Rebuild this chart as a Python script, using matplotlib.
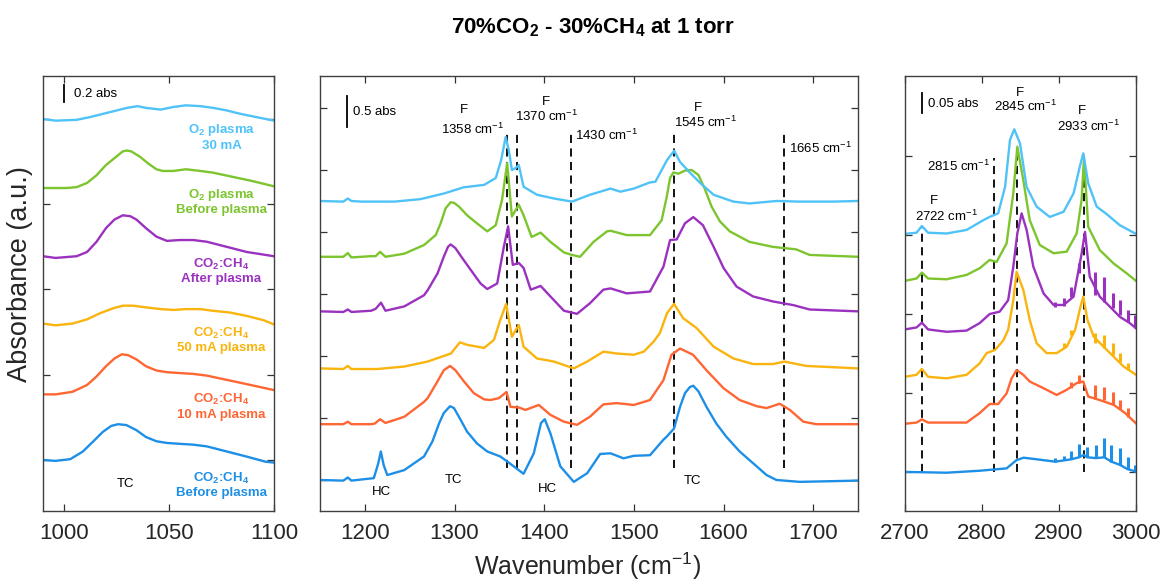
import matplotlib
matplotlib.use("Agg")
import matplotlib.pyplot as plt

plt.rcParams["font.family"] = ["Liberation Sans", "DejaVu Sans"]
plt.rcParams["mathtext.fontset"] = "custom"
plt.rcParams["mathtext.rm"] = "Liberation Sans"
plt.rcParams["mathtext.it"] = "Liberation Sans:italic"
plt.rcParams["mathtext.bf"] = "Liberation Sans:bold"

# ---------------------------------------------------------------------
# series (top to bottom) and colours
# ---------------------------------------------------------------------
labels = [
    "O$_\\mathbf{2}$ plasma\n30 mA",
    "O$_\\mathbf{2}$ plasma\nBefore plasma",
    "CO$_\\mathbf{2}$:CH$_\\mathbf{4}$\nAfter plasma",
    "CO$_\\mathbf{2}$:CH$_\\mathbf{4}$\n50 mA plasma",
    "CO$_\\mathbf{2}$:CH$_\\mathbf{4}$\n10 mA plasma",
    "CO$_\\mathbf{2}$:CH$_\\mathbf{4}$\nBefore plasma",
]
colors = ["#4FC3F7", "#7DC52E", "#9A32BF", "#F9B40E", "#FF6633", "#1E8FE6"]
label_y = [3.79, 3.03, 2.22, 1.41, 0.63, -0.29]

# ---------------------------------------------------------------------
# left panel, 990-1100 cm-1 (stacked absorbance, offsets included)
# ---------------------------------------------------------------------
left_o2_30_x = [990, 996, 1006, 1012, 1017, 1023.5, 1030, 1035, 1039, 1046, 1052, 1058,
                1065, 1071, 1077.5, 1084, 1092, 1100]
left_o2_30_y = [4.00, 3.98, 3.99, 4.02, 4.05, 4.09, 4.13, 4.15, 4.13, 4.11, 4.14, 4.16,
                4.15, 4.13, 4.10, 4.06, 4.02, 3.98]
left_o2_bef_x = [990, 1001, 1006, 1011, 1015.5, 1020, 1025, 1028, 1030, 1032, 1036, 1040,
                 1044, 1047, 1052, 1058, 1065, 1071, 1080.5, 1090, 1100]
left_o2_bef_y = [3.19, 3.19, 3.20, 3.25, 3.34, 3.46, 3.56, 3.62, 3.63, 3.62, 3.56, 3.48,
                 3.41, 3.39, 3.39, 3.41, 3.39, 3.37, 3.32, 3.27, 3.21]
left_aft_x = [990, 996, 1006, 1011, 1015.5, 1020, 1024, 1028, 1031.5, 1034.5, 1039, 1044,
              1049, 1055, 1061.5, 1068, 1077.5, 1087, 1100]
left_aft_y = [2.39, 2.37, 2.39, 2.44, 2.56, 2.72, 2.82, 2.87, 2.86, 2.82, 2.72, 2.62,
              2.57, 2.58, 2.58, 2.56, 2.50, 2.44, 2.39]
left_50_x = [990, 996, 1004, 1011, 1017, 1023.5, 1028, 1033, 1039, 1046, 1052, 1058,
             1065, 1071, 1079, 1087, 1095, 1100]
left_50_y = [1.60, 1.58, 1.60, 1.65, 1.72, 1.78, 1.81, 1.81, 1.79, 1.77, 1.76, 1.77,
             1.77, 1.75, 1.73, 1.69, 1.64, 1.59]
left_10_x = [990, 996, 1004, 1011, 1015.5, 1020, 1024, 1027.5, 1030.5, 1034.5, 1039, 1044,
             1049, 1055, 1061.5, 1068, 1077.5, 1087, 1100]
left_10_y = [0.77, 0.77, 0.80, 0.88, 0.98, 1.10, 1.19, 1.24, 1.23, 1.18, 1.10, 1.05,
             1.03, 1.02, 1.01, 0.99, 0.94, 0.89, 0.82]
left_bef_x = [990, 996, 1003, 1009, 1014, 1018.5, 1022.5, 1025.7, 1029.7, 1034.5, 1039, 1044,
              1049, 1055, 1061.5, 1068, 1077.5, 1087, 1096, 1100]
left_bef_y = [0.00, -0.01, 0.01, 0.10, 0.22, 0.33, 0.40, 0.42, 0.41, 0.35, 0.27, 0.22,
              0.20, 0.19, 0.18, 0.16, 0.10, 0.04, -0.02, -0.03]

# ---------------------------------------------------------------------
# middle panel, 1150-1750 cm-1
# ---------------------------------------------------------------------
mid_o2_30_x = [1150, 1176, 1181, 1185, 1196, 1233, 1262, 1288, 1310, 1333, 1346, 1352,
               1357, 1360.5, 1364, 1368, 1371.7, 1377, 1392, 1411, 1431, 1451, 1474,
               1485, 1500, 1518, 1524, 1537, 1545, 1551.5, 1563, 1574, 1589, 1611,
               1629, 1659, 1685, 1722, 1750]
mid_o2_30_y = [4.50, 4.49, 4.54, 4.50, 4.49, 4.49, 4.53, 4.62, 4.72, 4.76, 4.87, 5.16,
               5.53, 5.32, 5.00, 5.03, 5.08, 4.73, 4.60, 4.54, 4.49, 4.60, 4.70,
               4.65, 4.70, 4.80, 4.81, 5.16, 5.31, 5.13, 4.95, 4.79, 4.60, 4.49,
               4.46, 4.50, 4.49, 4.49, 4.50]
mid_o2_bef_x = [1150, 1176, 1181, 1185, 1207, 1212, 1217, 1223, 1244, 1266, 1279, 1284.5,
                1290, 1295.7, 1299.4, 1305, 1314, 1325, 1336.5, 1346, 1353, 1358.7, 1364,
                1371.7, 1377, 1386, 1396, 1407, 1422, 1431, 1440, 1455, 1470, 1474, 1492,
                1518, 1531, 1536.7, 1540.4, 1544, 1549.6, 1557, 1564.5, 1572, 1579,
                1586.7, 1596, 1607, 1629, 1655, 1681, 1696, 1750]
mid_o2_bef_y = [3.60, 3.60, 3.66, 3.59, 3.61, 3.61, 3.68, 3.60, 3.65, 3.79, 3.95, 4.14,
                4.38, 4.48, 4.47, 4.41, 4.27, 4.14, 4.01, 4.11, 4.52, 5.11, 4.25,
                4.44, 4.27, 3.92, 3.99, 3.84, 3.67, 3.63, 3.60, 3.84, 4.01, 4.02, 3.95,
                3.95, 4.19, 4.57, 4.87, 4.96, 4.94, 4.99, 5.00, 4.92, 4.70,
                4.41, 4.17, 4.01, 3.84, 3.76, 3.72, 3.63, 3.60]
mid_aft_x = [1150, 1176, 1181, 1185, 1207, 1212, 1218, 1223, 1244, 1266, 1270, 1281, 1288,
             1292.7, 1295.7, 1301, 1308.6, 1318, 1329, 1336.5, 1347.6, 1355, 1359.8, 1365,
             1371.7, 1377, 1385, 1396, 1407, 1422, 1436.6, 1451, 1466, 1474, 1492, 1518,
             1533, 1540.4, 1547.8, 1557, 1566.3, 1577, 1589, 1600, 1614.5, 1633, 1655,
             1678, 1696, 1750]
mid_aft_y = [2.72, 2.71, 2.75, 2.71, 2.73, 2.76, 2.86, 2.73, 2.80, 2.98, 3.06, 3.33, 3.60,
             3.76, 3.80, 3.74, 3.58, 3.39, 3.17, 3.08, 3.17, 3.76, 4.09, 3.47,
             3.50, 3.42, 3.07, 3.13, 2.96, 2.73, 2.68, 2.85, 3.07, 3.09, 3.01, 3.04,
             3.44, 3.87, 3.88, 4.14, 4.24, 4.11, 3.76, 3.42, 3.12, 2.96, 2.88,
             2.82, 2.75, 2.72]
mid_50_x = [1150, 1176, 1181, 1185, 1214, 1244, 1270, 1296, 1306, 1314, 1333, 1344,
            1351, 1357.6, 1364, 1371.7, 1377, 1392, 1411, 1433, 1448, 1466, 1481,
            1500, 1511, 1522, 1529, 1537, 1544.8, 1555, 1570, 1589, 1611, 1633,
            1655, 1668, 1692, 1750]
mid_50_y = [1.80, 1.79, 1.84, 1.79, 1.79, 1.83, 1.91, 2.04, 2.22, 2.18, 2.13, 2.26,
            2.58, 2.84, 2.31, 2.50, 2.15, 1.96, 1.91, 1.80, 1.91, 2.07, 2.04,
            2.02, 2.07, 2.23, 2.37, 2.69, 2.84, 2.61, 2.45, 2.15, 1.96, 1.87,
            1.87, 1.91, 1.84, 1.80]
mid_10_x = [1150, 1176, 1181, 1185, 1207, 1211, 1217, 1223, 1244, 1266, 1270, 1281, 1288,
            1295, 1301, 1310.5, 1321.6, 1333, 1340, 1349.5, 1358, 1362.4, 1371.7, 1379,
            1394, 1407, 1422, 1436.6, 1451, 1466, 1481, 1500, 1518, 1533, 1542, 1551.5,
            1566, 1581, 1600, 1618, 1637, 1648, 1662.7, 1674, 1689, 1703.5, 1750]
mid_10_y = [0.90, 0.90, 0.94, 0.90, 0.90, 0.91, 0.98, 0.92, 1.02, 1.26, 1.32, 1.59, 1.77,
            1.84, 1.77, 1.59, 1.40, 1.30, 1.29, 1.32, 1.42, 1.18, 1.17, 1.13,
            1.21, 1.05, 0.94, 0.89, 1.02, 1.22, 1.24, 1.21, 1.29, 1.61, 2.02, 2.12,
            2.02, 1.77, 1.48, 1.29, 1.19, 1.16, 1.23, 1.13, 0.94, 0.90, 0.90]
mid_bef_x = [1150, 1176, 1181, 1185, 1210, 1215, 1217.8, 1221, 1225, 1244, 1266, 1275.3,
             1282.7, 1288, 1295, 1299.4, 1306.8, 1314, 1325, 1336.5, 1351, 1358.7, 1377,
             1388.4, 1396.5, 1400.6, 1407, 1418, 1433, 1448, 1462.5, 1474, 1488.5, 1500,
             1518, 1533, 1536.7, 1544.8, 1551.5, 1557, 1562.6, 1566.3, 1572, 1581, 1592,
             1603, 1618, 1633, 1648, 1659, 1685, 1750]
mid_bef_y = [0.00, -0.01, 0.04, -0.01, 0.03, 0.27, 0.46, 0.24, 0.08, 0.16, 0.38, 0.62,
             0.91, 1.08, 1.19, 1.16, 0.97, 0.78, 0.59, 0.46, 0.38, 0.30, 0.10,
             0.43, 0.92, 0.98, 0.75, 0.22, -0.03, 0.11, 0.42, 0.43, 0.35, 0.39,
             0.40, 0.65, 0.70, 0.83, 1.18, 1.40, 1.50, 1.52, 1.43, 1.18, 0.91,
             0.70, 0.46, 0.27, 0.08, 0.00, -0.03, -0.01]

# ---------------------------------------------------------------------
# right panel, 2700-3000 cm-1
# ---------------------------------------------------------------------
right_o2_30_x = [2700, 2715, 2722, 2730, 2754, 2780, 2802, 2810, 2821, 2830, 2836.4,
                 2842, 2849.4, 2858, 2871, 2888, 2906, 2919, 2927, 2931.6, 2938,
                 2949, 2962, 2979, 3000]
right_o2_30_y = [0.603, 0.606, 0.623, 0.606, 0.604, 0.613, 0.638, 0.646, 0.655, 0.722, 0.841,
                 0.868, 0.832, 0.722, 0.672, 0.646, 0.659, 0.706, 0.773, 0.807, 0.731,
                 0.672, 0.653, 0.625, 0.603]
right_o2_bef_x = [2700, 2715, 2722, 2730, 2754, 2780, 2797, 2810, 2819, 2832, 2840.7,
                  2845.9, 2853.7, 2862, 2875, 2893, 2910, 2923, 2929.4, 2932.5, 2938,
                  2953, 2971, 2988, 3000]
right_o2_bef_y = [0.484, 0.490, 0.505, 0.490, 0.488, 0.499, 0.516, 0.537, 0.532, 0.579, 0.706,
                  0.824, 0.739, 0.638, 0.575, 0.554, 0.558, 0.604, 0.689, 0.795, 0.621,
                  0.562, 0.528, 0.503, 0.484]
right_aft_x = [2700, 2715, 2722, 2730, 2754, 2780, 2797, 2810, 2823, 2834, 2840.7, 2845.9,
               2851.5, 2858, 2866.7, 2880, 2893, 2906, 2919, 2929.5, 2933.8, 2940,
               2953, 2966, 2979, 2992, 3000]
right_aft_y = [0.361, 0.366, 0.378, 0.361, 0.355, 0.358, 0.377, 0.400, 0.406, 0.435, 0.520, 0.604,
               0.655, 0.613, 0.520, 0.452, 0.423, 0.423, 0.444, 0.554, 0.608, 0.494,
               0.444, 0.419, 0.393, 0.377, 0.364]
right_50_x = [2700, 2715, 2722, 2730, 2754, 2780, 2797, 2806, 2817, 2828, 2834, 2840.7,
              2845, 2853.7, 2862, 2871, 2884, 2897, 2910, 2921, 2928, 2931.6, 2937,
              2945, 2958, 2971, 2984, 3000]
right_50_y = [0.241, 0.246, 0.261, 0.241, 0.237, 0.246, 0.275, 0.301, 0.309, 0.334, 0.360, 0.435,
              0.507, 0.461, 0.385, 0.326, 0.301, 0.301, 0.317, 0.360, 0.419, 0.444, 0.385,
              0.343, 0.317, 0.292, 0.267, 0.246]
right_10_x = [2700, 2715, 2722, 2730, 2754, 2780, 2797, 2810, 2821, 2832, 2838.5, 2845,
              2853.7, 2862, 2880, 2897, 2910, 2923, 2931.6, 2938, 2953, 2971, 2986, 3000]
right_10_y = [0.122, 0.125, 0.133, 0.125, 0.125, 0.125, 0.149, 0.172, 0.172, 0.199, 0.237, 0.258,
              0.246, 0.229, 0.212, 0.195, 0.208, 0.225, 0.229, 0.191, 0.182, 0.170, 0.149, 0.123]
right_bef_x = [2700, 2754, 2797, 2832, 2845, 2854, 2871, 2895, 2906, 2916, 2926, 2932,
               2937, 2948, 2959, 2968, 2979, 2989, 3000]
right_bef_y = [0.000, -0.002, 0.003, 0.009, 0.030, 0.036, 0.032, 0.026, 0.029, 0.032, 0.037, 0.043,
               0.037, 0.035, 0.037, 0.026, 0.018, 0.007, 0.001]

# sharp gas-phase CH4 rotational lines (position, foot, tip)
spk_aft_x = [2895, 2906, 2916, 2926, 2947, 2959, 2970, 2979, 2989, 2999]
spk_aft_lo = [0.419, 0.420, 0.442, 0.503, 0.448, 0.431, 0.414, 0.398, 0.381, 0.364]
spk_aft_hi = [0.431, 0.440, 0.469, 0.528, 0.507, 0.494, 0.452, 0.435, 0.410, 0.398]
spk_50_x = [2906, 2916, 2947, 2959, 2970, 2979, 2989]
spk_50_lo = [0.313, 0.347, 0.327, 0.313, 0.296, 0.279, 0.258]
spk_50_hi = [0.326, 0.360, 0.351, 0.347, 0.326, 0.301, 0.275]
spk_10_x = [2916, 2926, 2947, 2959, 2970, 2979, 2989]
spk_10_lo = [0.212, 0.225, 0.184, 0.181, 0.170, 0.159, 0.140]
spk_10_hi = [0.229, 0.246, 0.220, 0.216, 0.203, 0.182, 0.161]
spk_bef_x = [2895, 2906, 2916, 2926, 2937, 2948, 2959, 2968, 2979, 2989, 2999]
spk_bef_lo = [0.026, 0.029, 0.032, 0.037, 0.037, 0.035, 0.037, 0.026, 0.018, 0.007, 0.001]
spk_bef_hi = [0.035, 0.041, 0.054, 0.070, 0.063, 0.068, 0.085, 0.068, 0.060, 0.039, 0.018]

# reference band positions
mid_lines = [1358, 1370, 1430, 1545, 1668]
right_lines = [2722, 2815, 2845, 2933]
right_line_top = [0.62, 0.795, 0.80, 0.80]

# ---------------------------------------------------------------------
fig = plt.figure(figsize=(11.62, 5.85), dpi=100)
ax_l = fig.add_axes([0.0370, 0.1265, 0.1988, 0.7436])
ax_m = fig.add_axes([0.2754, 0.1265, 0.4630, 0.7436])
ax_r = fig.add_axes([0.7788, 0.1265, 0.1988, 0.7436])

LW = 1.7
SMALL = 9.5

left_x = [left_o2_30_x, left_o2_bef_x, left_aft_x, left_50_x, left_10_x, left_bef_x]
left_y = [left_o2_30_y, left_o2_bef_y, left_aft_y, left_50_y, left_10_y, left_bef_y]
mid_x = [mid_o2_30_x, mid_o2_bef_x, mid_aft_x, mid_50_x, mid_10_x, mid_bef_x]
mid_y = [mid_o2_30_y, mid_o2_bef_y, mid_aft_y, mid_50_y, mid_10_y, mid_bef_y]
right_x = [right_o2_30_x, right_o2_bef_x, right_aft_x, right_50_x, right_10_x, right_bef_x]
right_y = [right_o2_30_y, right_o2_bef_y, right_aft_y, right_50_y, right_10_y, right_bef_y]

# dashed markers go underneath the spectra
dash = (0, (4.5, 3))
for wn in mid_lines:
    ax_m.plot([wn, wn], [0.19, 5.60], color="k", lw=1.3, ls=dash, zorder=1)
for wn, top in zip(right_lines, right_line_top):
    ax_r.plot([wn, wn], [0.0, top], color="k", lw=1.3, ls=dash, zorder=1)

# bottom trace drawn first so the upper ones sit on top
for i in reversed(range(6)):
    c = colors[i]
    ax_l.plot(left_x[i], left_y[i], color=c, lw=LW, zorder=2, solid_joinstyle="round")
    ax_m.plot(mid_x[i], mid_y[i], color=c, lw=LW, zorder=2, solid_joinstyle="round")
    ax_r.plot(right_x[i], right_y[i], color=c, lw=LW, zorder=2, solid_joinstyle="round")
    ax_l.text(1075, label_y[i], labels[i], color=c, fontsize=SMALL,
              fontweight="bold", ha="center", va="center", linespacing=1.15)

for sx, lo, hi, c in [(spk_bef_x, spk_bef_lo, spk_bef_hi, colors[5]),
                      (spk_10_x, spk_10_lo, spk_10_hi, colors[4]),
                      (spk_50_x, spk_50_lo, spk_50_hi, colors[3]),
                      (spk_aft_x, spk_aft_lo, spk_aft_hi, colors[2])]:
    ax_r.vlines(sx, lo, hi, color=c, lw=2.2, zorder=2)

# ---- limits and ticks ----
ax_l.set_xlim(990, 1100)
ax_l.set_ylim(-0.598, 4.504)
ax_l.set_xticks([1000, 1050, 1100])
ax_l.set_yticks([0, 1, 2, 3, 4])

ax_m.set_xlim(1150, 1750)
ax_m.set_ylim(-0.5, 6.516)
ax_m.set_xticks([1200, 1300, 1400, 1500, 1600, 1700])
ax_m.set_yticks([0, 1, 2, 3, 4, 5, 6])

ax_r.set_xlim(2700, 3000)
ax_r.set_ylim(-0.099, 1.003)
ax_r.set_xticks([2700, 2800, 2900, 3000])
ax_r.set_yticks([0, 0.2, 0.4, 0.6, 0.8])

for ax in (ax_l, ax_m, ax_r):
    ax.tick_params(direction="in", length=5, width=0.9, top=True, right=True,
                   labelsize=16, pad=9, colors="#333333", labelcolor="#262626")
    ax.set_yticklabels([])
    for sp in ax.spines.values():
        sp.set_color("#404040")
        sp.set_linewidth(1.0)

# ---- scale bars ----
ax_l.plot([1000, 1000], [4.2, 4.4], color="k", lw=1.3)
ax_l.text(1004.8, 4.29, "0.2 abs", fontsize=SMALL, va="center")
ax_m.plot([1180, 1180], [5.7, 6.2], color="k", lw=1.3)
ax_m.text(1186.3, 5.94, "0.5 abs", fontsize=SMALL, va="center")
ax_r.plot([2722.5, 2722.5], [0.91, 0.96], color="k", lw=1.3)
ax_r.text(2729.5, 0.933, "0.05 abs", fontsize=SMALL, va="center")

# ---- band annotations ----
cm = " cm$^{-1}$"
ax_l.text(1029.5, -0.28, "TC", fontsize=SMALL, ha="center", va="center")

ax_m.text(1311, 5.96, "F", fontsize=SMALL, ha="center", va="center")
ax_m.text(1320, 5.66, "1358" + cm, fontsize=SMALL, ha="center", va="center")
ax_m.text(1402, 6.10, "F", fontsize=SMALL, ha="center", va="center")
ax_m.text(1402.4, 5.86, "1370" + cm, fontsize=SMALL, ha="center", va="center")
ax_m.text(1434.7, 5.55, "1430" + cm, fontsize=SMALL, ha="left", va="center")
ax_m.text(1571, 6.00, "F", fontsize=SMALL, ha="center", va="center")
ax_m.text(1579.6, 5.76, "1545" + cm, fontsize=SMALL, ha="center", va="center")
ax_m.text(1673, 5.35, "1665" + cm, fontsize=SMALL, ha="left", va="center")
ax_m.text(1218, -0.20, "HC", fontsize=SMALL, ha="center", va="center")
ax_m.text(1299, 0.00, "TC", fontsize=SMALL, ha="center", va="center")
ax_m.text(1404, -0.15, "HC", fontsize=SMALL, ha="center", va="center")
ax_m.text(1565, -0.01, "TC", fontsize=SMALL, ha="center", va="center")

ax_r.text(2849.4, 0.960, "F", fontsize=SMALL, ha="center", va="center")
ax_r.text(2856.8, 0.927, "2845" + cm, fontsize=SMALL, ha="center", va="center")
ax_r.text(2929.5, 0.914, "F", fontsize=SMALL, ha="center", va="center")
ax_r.text(2938, 0.876, "2933" + cm, fontsize=SMALL, ha="center", va="center")
ax_r.text(2770, 0.773, "2815" + cm, fontsize=SMALL, ha="center", va="center")
ax_r.text(2738, 0.687, "F", fontsize=SMALL, ha="center", va="center")
ax_r.text(2754, 0.648, "2722" + cm, fontsize=SMALL, ha="center", va="center")

# ---- figure level text ----
fig.text(593 / 1162, 1 - 28 / 585,
         "70%CO$_\\mathbf{2}$ - 30%CH$_\\mathbf{4}$ at 1 torr",
         fontsize=16, fontweight="bold", ha="center", va="center")
fig.text(20 / 1162, 1 - 274 / 585, "Absorbance (a.u.)", fontsize=19.5,
         rotation=90, ha="center", va="center", color="#262626")
fig.text(588 / 1162, 1 - 566 / 585, "Wavenumber (cm$^{-1}$)", fontsize=18,
         ha="center", va="center", color="#262626")

fig.savefig("out.png", dpi=100)
